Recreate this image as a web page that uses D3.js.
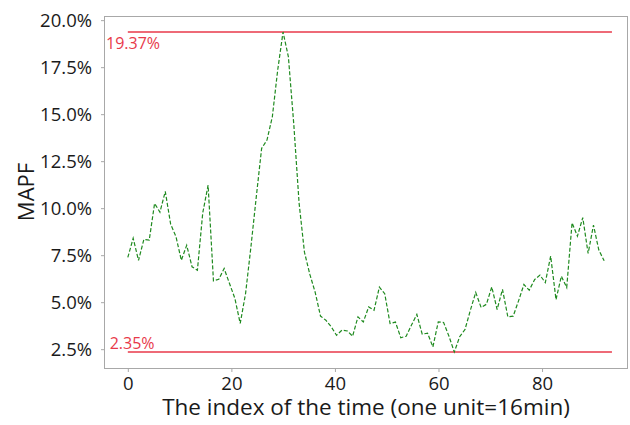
<!DOCTYPE html>
<html>
<head>
<meta charset="utf-8">
<script src="https://cdn.jsdelivr.net/npm/d3@7"></script>
<style>
  body { margin: 0; background: #fff; }
  text { font-family: "Open Sans", "Noto Sans", sans-serif; }
</style>
</head>
<body>
<div id="chart"></div>
<script>
// MAPF per time index (one unit = 16 min)
const mapf = [
  7.38, 8.40, 7.22, 8.34, 8.30, 10.25, 9.79, 10.89, 9.15, 8.48,
  7.23, 8.03, 6.88, 6.70, 9.75, 11.22, 6.13, 6.22, 6.79, 5.99,
  5.20, 3.87, 5.46, 7.94, 10.60, 13.18, 13.62, 14.86, 17.34, 19.37,
  18.05, 14.49, 10.27, 7.66, 6.49, 5.53, 4.26, 4.04, 3.69, 3.24,
  3.51, 3.47, 3.19, 4.22, 3.95, 4.75, 4.57, 5.80, 5.45, 3.86,
  3.94, 3.11, 3.19, 3.78, 4.35, 3.30, 3.35, 2.62, 3.95, 3.92,
  3.19, 2.35, 3.16, 3.55, 4.57, 5.52, 4.72, 4.89, 5.81, 4.61,
  5.68, 4.22, 4.26, 5.07, 5.94, 5.64, 6.20, 6.44, 6.04, 7.45,
  5.14, 6.38, 5.78, 9.22, 8.51, 9.50, 7.59, 9.10, 7.77, 7.20
];
const xEnd = 92;            // last sample sits at x = 92
const refLines = [19.37, 2.35];
const refSpan = [0, 93.5];
const xTicks = [0, 20, 40, 60, 80];
const yTicks = [2.5, 5, 7.5, 10, 12.5, 15, 17.5, 20];

const width = 630, height = 425;
const box = { left: 104, right: 628, top: 16, bottom: 368 };
const red = "#e8394a";

const step = xEnd / (mapf.length - 1);
const data = mapf.map((v, i) => ({ x: i * step, v: v }));

const x = d3.scaleLinear().domain([-4.6, 96.6]).range([box.left, box.right]);
const y = d3.scaleLinear().domain([1.499, 20.221]).range([box.bottom, box.top]);

const svg = d3.select("#chart").append("svg")
    .attr("width", width)
    .attr("height", height);

// frame
svg.append("rect")
    .attr("x", box.left + 0.5).attr("y", box.top + 0.5)
    .attr("width", box.right - box.left - 1)
    .attr("height", box.bottom - box.top)
    .attr("fill", "none")
    .attr("stroke", "#a8a8a8")
    .attr("stroke-width", 1);

svg.append("g")
    .attr("transform", `translate(0,${box.bottom + 0.5})`)
    .call(d3.axisBottom(x).tickValues(xTicks).tickSize(3.5).tickPadding(5).tickFormat(d3.format("d")))
    .call(g => g.select(".domain").remove())
    .call(g => g.selectAll(".tick line").attr("stroke", "#a8a8a8"))
    .call(g => g.selectAll(".tick text")
        .attr("font-size", 18.5).attr("fill", "#1a1a1a")
        .style("font-family", '"Open Sans", sans-serif'));

svg.append("g")
    .attr("transform", `translate(${box.left + 0.5},0)`)
    .call(d3.axisLeft(y).tickValues(yTicks).tickSize(3.5).tickPadding(9).tickFormat(d => d.toFixed(1) + "%"))
    .call(g => g.select(".domain").remove())
    .call(g => g.selectAll(".tick line").attr("stroke", "#a8a8a8"))
    .call(g => g.selectAll(".tick text")
        .attr("font-size", 18.5).attr("fill", "#1a1a1a")
        .style("font-family", '"Open Sans", sans-serif'));

// reference lines at max / min
svg.selectAll(".ref")
  .data(refLines)
  .join("line")
    .attr("class", "ref")
    .attr("x1", x(refSpan[0])).attr("x2", x(refSpan[1]))
    .attr("y1", d => y(d)).attr("y2", d => y(d))
    .attr("stroke", red)
    .attr("stroke-width", 1.5);

svg.append("text")
    .attr("x", x(-4.2)).attr("y", y(refLines[0]) + 3)
    .attr("dominant-baseline", "hanging")
    .attr("font-size", 16).attr("fill", red)
    .text(refLines[0].toFixed(2) + "%");

svg.append("text")
    .attr("x", x(-3.5)).attr("y", y(refLines[1]) - 3.5)
    .attr("font-size", 16).attr("fill", red)
    .text(refLines[1].toFixed(2) + "%");

svg.append("path")
    .datum(data)
    .attr("fill", "none")
    .attr("stroke", "#1f8a1f")
    .attr("stroke-width", 1.2)
    .attr("stroke-dasharray", "4,2")
    .attr("d", d3.line().x(d => x(d.x)).y(d => y(d.v)));

// axis titles
svg.append("text")
    .attr("x", (box.left + box.right) / 2)
    .attr("y", 415)
    .attr("text-anchor", "middle")
    .attr("font-size", 22.5).attr("fill", "#1a1a1a")
    .text("The index of the time (one unit=16min)");

svg.append("text")
    .attr("transform", `translate(34,${(box.top + box.bottom) / 2}) rotate(-90)`)
    .attr("text-anchor", "middle")
    .attr("font-size", 22).attr("fill", "#1a1a1a")
    .text("MAPF");
</script>
</body>
</html>
